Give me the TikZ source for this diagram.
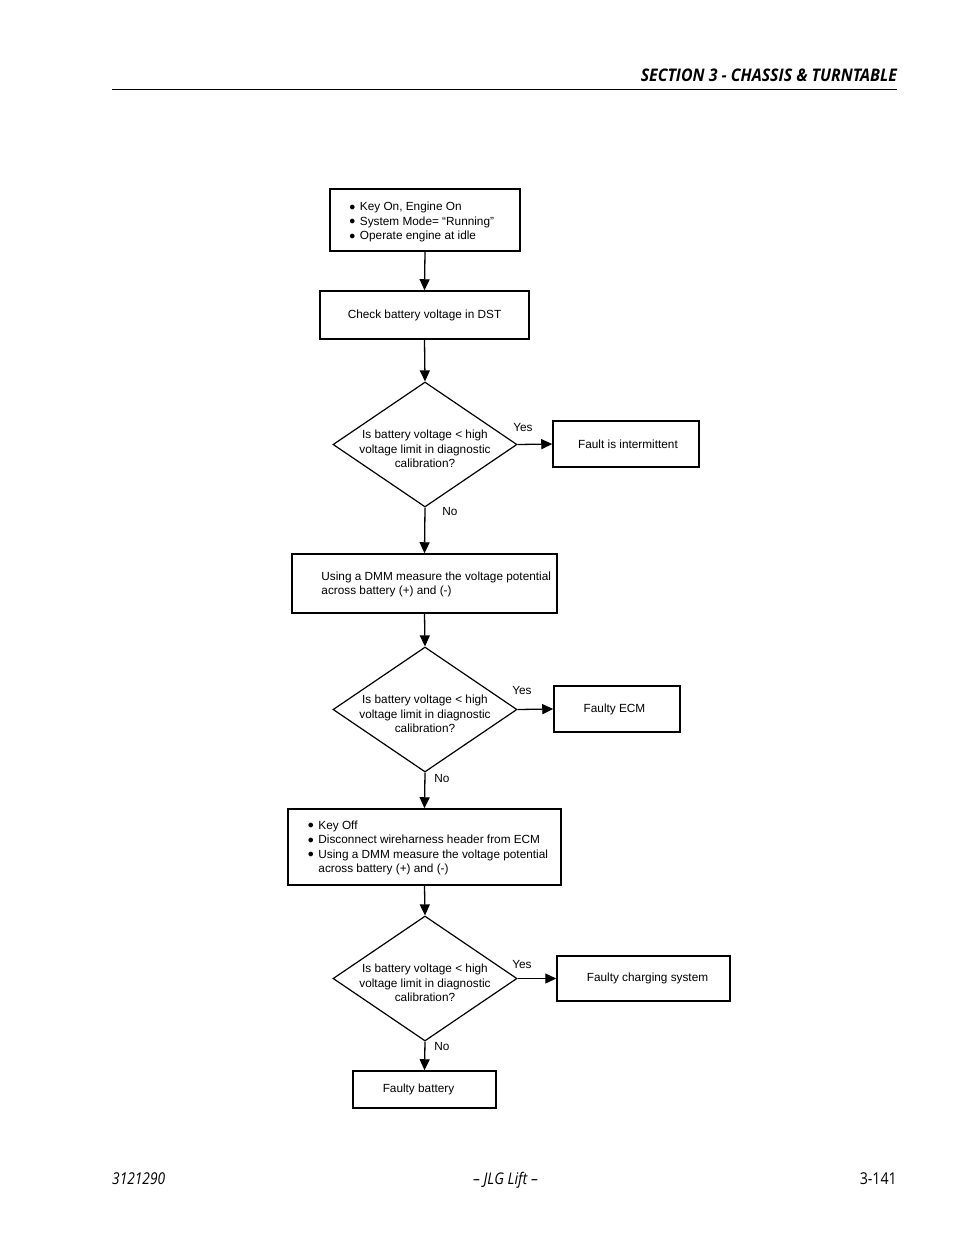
\documentclass[tikz,border=0pt]{standalone}
\usepackage{fontspec}
\setmainfont{Liberation Sans}
\newfontfamily\hdrfont[Ligatures=TeX]{Open Sans}
\usetikzlibrary{arrows.meta,shapes.geometric,shadows,calc}
\newcommand{\bul}{\makebox[10.5pt][l]{\raisebox{0.5pt}{$\bullet$}}}
\begin{document}
\begin{tikzpicture}[x=1pt,y=-1pt,
  every node/.style={font=\fontsize{11.8}{14.5}\selectfont},
  box/.style={draw=black,line width=1.5pt,fill=white,rectangle,inner sep=0pt,
    drop shadow={shadow xshift=1pt,shadow yshift=-1pt,fill=black!55,opacity=1}},
  dia/.style={draw=black,line width=1.2pt,diamond,inner sep=0pt,minimum width=184pt,minimum height=125pt},
  txt/.style={inner sep=0pt,align=left},
  ctxt/.style={inner sep=0pt,align=center},
  conn/.style={line width=1.3pt,-{Triangle[length=11pt,width=10pt]}},
  lab/.style={inner sep=0pt,font=\fontsize{11.8}{14}\selectfont}]
\useasboundingbox (0,0) rectangle (954,1235);
\fill[white] (0,0) rectangle (954,1235);

% header and footer
\node[inner sep=0pt,anchor=base east] (hdr) at (897,81.5)
  {\resizebox{256pt}{12.6pt}{\hdrfont\bfseries\itshape SECTION 3 - CHASSIS \& TURNTABLE}};
\coordinate (hl) at (112,89);
\coordinate (hr) at (897,89);
\draw[line width=1pt] (hl) -- (hr);
\node[inner sep=0pt,anchor=base west] (f1) at (112,1184.5)
  {\resizebox{53pt}{11.8pt}{\hdrfont\itshape 3121290}};
\node[inner sep=0pt,anchor=base] (f2) at (505.5,1184.5)
  {\resizebox{65pt}{12.3pt}{\hdrfont\itshape \textendash{} JLG Lift \textendash}};
\node[inner sep=0pt,anchor=base east] (f3) at (897,1184.5)
  {\resizebox{37pt}{11.8pt}{\hdrfont 3-141}};

% boxes
\node[box,minimum width=190pt,minimum height=62pt] (b1) at (425,220) {};
\node[txt,anchor=west] (b1t) at ($(b1.west)+(20,2)$)
  {\bul Key On, Engine On\\ \bul System Mode= ``Running''\\ \bul Operate engine at idle};

\node[box,minimum width=209pt,minimum height=48pt] (b2) at (424.5,315) {Check battery voltage in DST};

\node[dia] (d1) at (425,444.5) {};
\node[ctxt] (d1t) at (425,449) {Is battery voltage < high\\voltage limit in diagnostic\\calibration?};
\node[box,minimum width=146pt,minimum height=46pt] (fi) at (626,444) {\hspace*{4pt}Fault is intermittent};

\node[box,minimum width=265pt,minimum height=59pt] (dmm) at (424.5,583.5) {};
\node[txt,anchor=west] (dmmt) at ($(dmm.west)+(30,1)$)
  {Using a DMM measure the voltage potential\\across battery (+) and (-)};

\node[dia] (d2) at (425,709.5) {};
\node[ctxt] (d2t) at (425,714) {Is battery voltage < high\\voltage limit in diagnostic\\calibration?};
\node[box,minimum width=126pt,minimum height=46pt] (ecm) at (617,709) {\hspace*{-5pt}Faulty ECM};

\node[box,minimum width=273pt,minimum height=76pt] (ko) at (424.5,847) {};
\node[txt,anchor=west] (kot) at ($(ko.west)+(20.5,1)$)
  {\bul Key Off\\ \bul Disconnect wireharness header from ECM\\ \bul Using a DMM measure the voltage potential\\ \hspace*{10.5pt}across battery (+) and (-)};

\node[dia] (d3) at (425,978.5) {};
\node[ctxt] (d3t) at (425,983) {Is battery voltage < high\\voltage limit in diagnostic\\calibration?};
\node[box,minimum width=173pt,minimum height=45pt] (fc) at (643.5,978.5) {\hspace*{8pt}Faulty charging system};

\node[box,minimum width=143pt,minimum height=37pt] (fb) at (424.5,1089.5) {\hspace*{-12pt}Faulty battery};

% connectors
\draw[conn] (b1.south) -- (b2.north);
\draw[conn] (b2.south) -- (d1.north);
\draw[conn] (d1.east) -- (fi.west);
\draw[conn] (d1.south) -- (dmm.north);
\draw[conn] (dmm.south) -- (d2.north);
\draw[conn] (d2.east) -- (ecm.west);
\draw[conn] (d2.south) -- (ko.north);
\draw[conn] (ko.south) -- (d3.north);
\draw[conn] (d3.east) -- (fc.west);
\draw[conn] (d3.south) -- (fb.north);

% labels
\node[lab] (y1) at (523,427) {Yes};
\node[lab] (n1) at (450,511) {No};
\node[lab] (y2) at (522,690) {Yes};
\node[lab] (n2) at (442,778) {No};
\node[lab] (y3) at (522,964) {Yes};
\node[lab] (n3) at (442,1046) {No};
\end{tikzpicture}
\end{document}
